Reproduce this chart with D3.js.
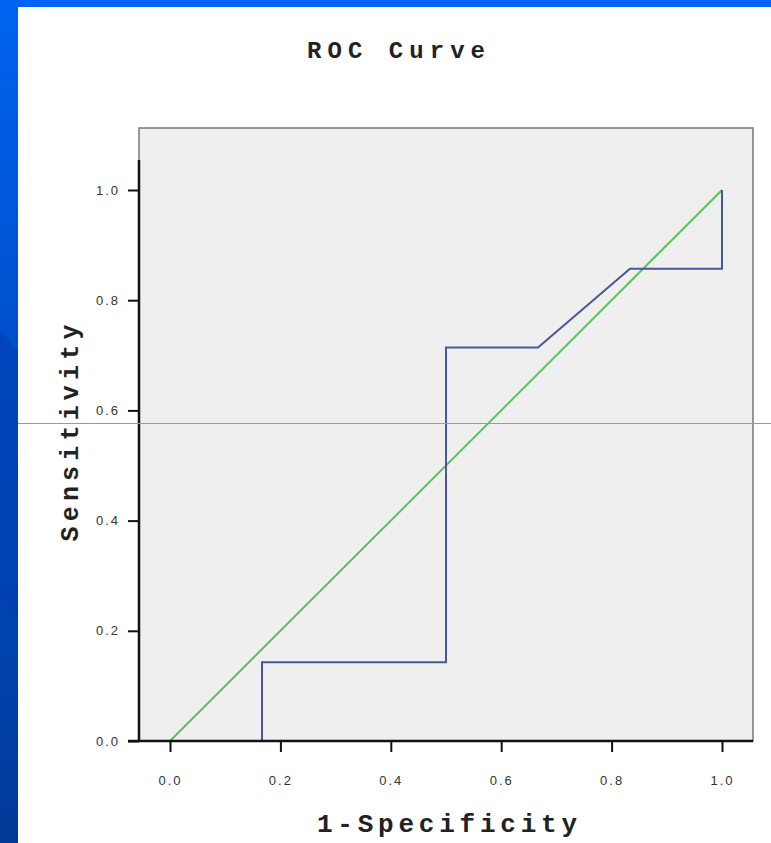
<!DOCTYPE html>
<html><head><meta charset="utf-8">
<script src="https://cdn.jsdelivr.net/npm/d3@7"></script>
<style>html,body{margin:0;padding:0;background:#fff;overflow:hidden} text{font-variant-ligatures:none}</style>
</head><body>
<script>
const title = "ROC Curve";
const xTitle = "1-Specificity";
const yTitle = "Sensitivity";
const fpr = [0, 0.1667, 0.1667, 0.5, 0.5, 0.6667, 0.8333, 1.0, 1.0];
const tpr = [0, 0, 0.1429, 0.1429, 0.7143, 0.7143, 0.8571, 0.8571, 1.0];
const refX = [0, 1];
const refY = [0, 1];
const tickVals = [0, 0.2, 0.4, 0.6, 0.8, 1.0];

const W = 771, H = 843;
const svg = d3.select("body").append("svg").attr("width", W).attr("height", H);
const defs = svg.append("defs");
const g1 = defs.append("linearGradient").attr("id","lg").attr("x1",0).attr("y1",0).attr("x2",0).attr("y2",1);
g1.append("stop").attr("offset","0").attr("stop-color","#0064f0");
g1.append("stop").attr("offset","0.35").attr("stop-color","#0052d0");
g1.append("stop").attr("offset","1").attr("stop-color","#003a98");

// slide frame
svg.append("rect").attr("x",0).attr("y",0).attr("width",W).attr("height",H).attr("fill","#fff");
svg.append("rect").attr("x",0).attr("y",0).attr("width",W).attr("height",7).attr("fill","#0064f0");
svg.append("rect").attr("x",0).attr("y",0).attr("width",18).attr("height",H).attr("fill","url(#lg)");
svg.append("path").attr("d","M0,330 L18,350 L18,620 L0,600 Z").attr("fill","#0040b0").attr("opacity",0.6);

const x = d3.scaleLinear().domain([0,1]).range([170,722]);
const y = d3.scaleLinear().domain([0,1]).range([741,190]);

const px0 = 139, px1 = 753, py0 = 128, py1 = 741;
svg.append("rect").attr("x",px0).attr("y",py0).attr("width",px1-px0).attr("height",py1-py0)
  .attr("fill","#efefef").attr("stroke","#777").attr("stroke-width",1.5);

// lines
const line = d3.line().x(d=>x(d[0])).y(d=>y(d[1]));
svg.append("path").datum(refX.map((v,i)=>[v,refY[i]])).attr("d",line)
  .attr("fill","none").attr("stroke","#5cbf5c").attr("stroke-width",2);
svg.append("path").datum(fpr.map((v,i)=>[v,tpr[i]])).attr("d",line)
  .attr("fill","none").attr("stroke","#4a559e").attr("stroke-width",2);

// axes
const fmt = d3.format(".1f");
const xAxis = svg.append("g").attr("transform",`translate(0,${py1})`)
  .call(d3.axisBottom(x).tickValues(tickVals).tickFormat(fmt).tickSize(11).tickPadding(24));
const yAxis = svg.append("g").attr("transform",`translate(${px0},0)`)
  .call(d3.axisLeft(y).tickValues(tickVals).tickFormat(fmt).tickSize(11).tickPadding(8));
[xAxis,yAxis].forEach(a=>{
  a.select(".domain").remove();
  a.selectAll(".tick line").attr("stroke","#111").attr("stroke-width",2);
  a.selectAll(".tick text").attr("fill","#333").attr("font-family","Liberation Sans, sans-serif")
   .attr("font-size",13).attr("letter-spacing","2px");
});
// axis lines
svg.append("line").attr("x1",px0).attr("x2",px0).attr("y1",160).attr("y2",py1+1).attr("stroke","#111").attr("stroke-width",2.5);
svg.append("line").attr("x1",px0-11).attr("x2",px1).attr("y1",py1).attr("y2",py1).attr("stroke","#111").attr("stroke-width",2.5);

// titles
const tf = "Liberation Mono, Courier New, monospace";
svg.append("text").attr("x",396).attr("y",58).attr("text-anchor","middle")
  .attr("font-family",tf).attr("font-weight","bold").attr("font-size",24)
  .attr("fill","#222").attr("textLength",178).attr("lengthAdjust","spacing").text(title);
svg.append("text").attr("x",447).attr("y",832).attr("text-anchor","middle")
  .attr("font-family",tf).attr("font-weight","bold").attr("font-size",26)
  .attr("fill","#222").attr("textLength",260).attr("lengthAdjust","spacing").text(xTitle);
svg.append("text").attr("transform","translate(78,433) rotate(-90)").attr("text-anchor","middle")
  .attr("font-family",tf).attr("font-weight","bold").attr("font-size",25)
  .attr("fill","#222").attr("textLength",217).attr("lengthAdjust","spacing").text(yTitle);

// horizontal overlay line
svg.append("line").attr("x1",18).attr("x2",W).attr("y1",423.5).attr("y2",423.5).attr("stroke","#7a9ee0").attr("stroke-width",1);
</script>
</body></html>
